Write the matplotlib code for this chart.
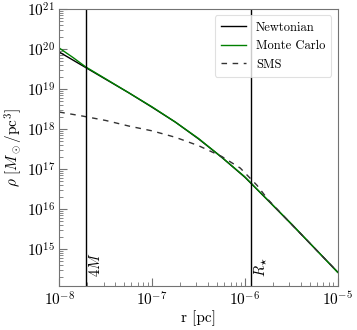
import matplotlib
matplotlib.use("Agg")
import matplotlib.pyplot as plt
import numpy as np

# log10 radius [pc] and log10 density [M_sun/pc^3]
logr_newton = [-8.0, -7.75, -7.5, -7.25, -7.0, -6.75, -6.5, -6.25, -6.0,
               -5.75, -5.5, -5.25, -5.0]
logrho_newton = [19.93, 19.59, 19.25, 18.91, 18.55, 18.18, 17.76, 17.30,
                 16.80, 16.22, 15.63, 15.03, 14.43]
logr_mc = [-8.0, -7.85, -7.716, -7.5, -7.25, -7.0, -6.75, -6.5, -6.25, -6.0,
           -5.75, -5.5, -5.25, -5.0]
logrho_mc = [20.03, 19.79, 19.56, 19.26, 18.91, 18.56, 18.18, 17.77, 17.30,
             16.81, 16.22, 15.64, 15.03, 14.42]
logr_sms = [-8.0, -7.75, -7.5, -7.25, -7.0, -6.75, -6.5, -6.25, -6.05,
            -5.87, -5.75, -5.5, -5.25, -5.0]
logrho_sms = [18.43, 18.33, 18.22, 18.08, 17.96, 17.80, 17.59, 17.32, 17.03,
              16.60, 16.24, 15.63, 15.03, 14.43]
r_4M = 1.92e-8
r_star = 1.16e-6
xticks = [1e-8, 1e-7, 1e-6, 1e-5]
yticks = [1e15, 1e16, 1e17, 1e18, 1e19, 1e20, 1e21]

plt.rcParams['font.family'] = ['cmr10', 'DejaVu Serif']
plt.rcParams['mathtext.fontset'] = 'cm'
plt.rcParams['axes.formatter.use_mathtext'] = True

fig = plt.figure(figsize=(3.57, 3.30), dpi=100)
ax = fig.add_axes([0.166, 0.133, 0.780, 0.839])

ax.plot(10 ** np.array(logr_newton), 10 ** np.array(logrho_newton),
        color='black', lw=1.0, label='Newtonian')
ax.plot(10 ** np.array(logr_mc), 10 ** np.array(logrho_mc),
        color='green', lw=1.0, label='Monte Carlo')
ax.plot(10 ** np.array(logr_sms), 10 ** np.array(logrho_sms),
        color='#333333', lw=1.0, ls='--', dashes=(4, 4), label='SMS')
ax.axvline(r_4M, color='black', lw=1.0)
ax.axvline(r_star, color='black', lw=1.0)

ax.set_xscale('log')
ax.set_yscale('log')
ax.set_xlim(1e-8, 1e-5)
ax.set_ylim(1.2e14, 1e21)
ax.xaxis.set_major_locator(matplotlib.ticker.FixedLocator(xticks))
ax.yaxis.set_major_locator(matplotlib.ticker.FixedLocator(yticks))
ax.xaxis.set_major_formatter(matplotlib.ticker.LogFormatterSciNotation())
ax.yaxis.set_major_formatter(matplotlib.ticker.LogFormatterSciNotation())
ax.xaxis.set_minor_locator(matplotlib.ticker.LogLocator(base=10, subs=np.arange(2, 10), numticks=20))
ax.yaxis.set_minor_locator(matplotlib.ticker.LogLocator(base=10, subs=np.arange(2, 10), numticks=20))
ax.xaxis.set_minor_formatter(matplotlib.ticker.NullFormatter())
ax.yaxis.set_minor_formatter(matplotlib.ticker.NullFormatter())

ax.text(r_4M * 1.05, 2.0e14, r'$4M$', rotation=90, fontsize=10.5, ha='left', va='bottom')
ax.text(r_star * 1.05, 2.0e14, r'$R_{\star}$', rotation=90, fontsize=10.5, ha='left', va='bottom')

ax.set_xlabel(r'r [pc]', fontsize=11, labelpad=1)
ax.set_ylabel(r'$\rho\ [M_\odot/\mathrm{pc}^3]$', fontsize=11, labelpad=1)

for s in ax.spines.values():
    s.set_color('0.45')
    s.set_linewidth(0.8)
ax.tick_params(which='both', direction='in', top=False, right=False, colors='0.45',
               labelcolor='black', labelsize=11)
ax.tick_params(which='major', length=6, width=0.8, pad=3)
ax.tick_params(which='minor', length=3, width=0.6)

leg = ax.legend(loc='upper right', fontsize=9, frameon=True, fancybox=True,
                borderpad=0.5, handlelength=2.0)
leg.get_frame().set_edgecolor('0.85')
leg.get_frame().set_linewidth(0.8)

fig.savefig('out.png', dpi=100)
